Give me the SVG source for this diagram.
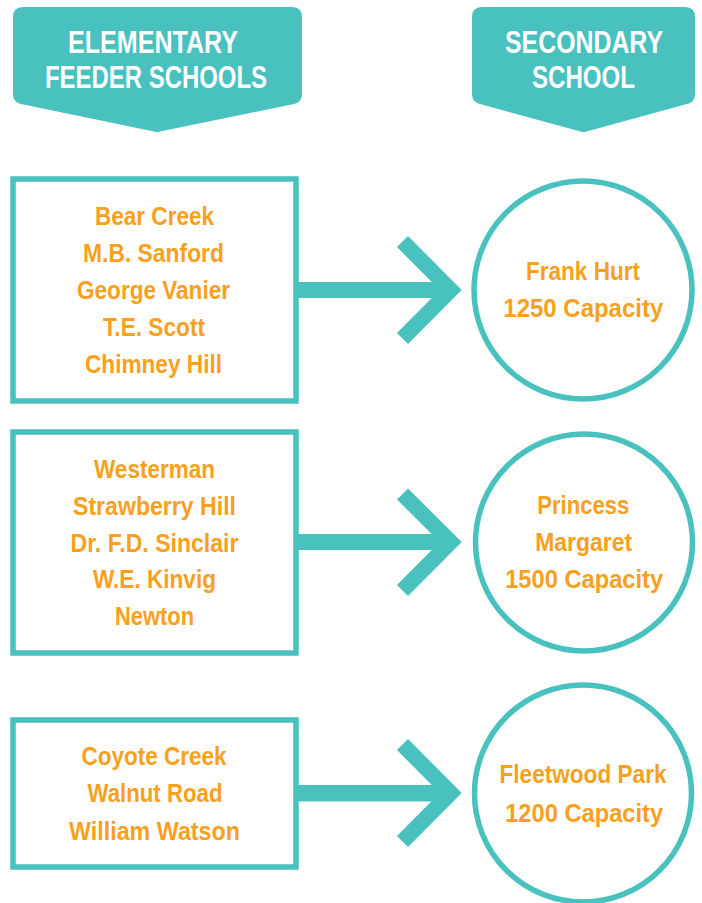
<svg xmlns="http://www.w3.org/2000/svg" width="702" height="903" viewBox="0 0 702 903">
<style>
.hdr{fill:#48C1BF}
.htx{fill:#FFFFFF;font-family:"Liberation Sans",Arial,sans-serif;font-weight:bold;font-size:31.5px;text-anchor:middle}
.box{fill:#FFFFFF;stroke:#48C1BF;stroke-width:5.5}
.circ{fill:#FFFFFF;stroke:#48C1BF;stroke-width:5.5}
.tx{fill:#F9A01E;font-family:"Liberation Sans",Arial,sans-serif;font-weight:bold;font-size:26px;text-anchor:middle}
.bar{fill:#48C1BF}
.chev{fill:none;stroke:#48C1BF;stroke-width:15.6;stroke-linejoin:miter;stroke-miterlimit:4}
</style>
<rect width="702" height="903" fill="#FFFFFF"/>
<g id="header-elementary">
<path class="hdr" d="M23,7 H292 Q302,7 302,17 V94 Q302,102 294,104 L160,131.5 Q157,132.5 154,131.5 L21,104 Q13,102 13,94 V17 Q13,7 23,7 Z"/>
<text class="htx" x="153" y="53" textLength="170" lengthAdjust="spacingAndGlyphs">ELEMENTARY</text>
<text class="htx" x="156" y="88" textLength="222" lengthAdjust="spacingAndGlyphs">FEEDER SCHOOLS</text>
</g>
<g id="header-secondary">
<path class="hdr" d="M482,7 H685 Q695,7 695,17 V94 Q695,102 687,104 L586.5,131.5 Q583.5,132.5 580.5,131.5 L480,104 Q472,102 472,94 V17 Q472,7 482,7 Z"/>
<text class="htx" x="584" y="53" textLength="158" lengthAdjust="spacingAndGlyphs">SECONDARY</text>
<text class="htx" x="583.5" y="88" textLength="103" lengthAdjust="spacingAndGlyphs">SCHOOL</text>
</g>
<g id="connectors">
<rect class="bar" x="296" y="282" width="158" height="16"/>
<polyline class="chev" points="402.5,241.5 450.7,290 402.5,338.5"/>
<rect class="bar" x="296" y="534" width="158" height="16"/>
<polyline class="chev" points="402.5,494 450.7,542 402.5,590.5"/>
<rect class="bar" x="296" y="785" width="158" height="16.5"/>
<polyline class="chev" points="402.5,744.5 450.7,793 402.5,841.5"/>
</g>
<g id="feeder-group-1">
<rect class="box" x="13" y="179" width="283" height="222"/>
<text class="tx" x="154.5" y="225" textLength="119" lengthAdjust="spacingAndGlyphs">Bear Creek</text>
<text class="tx" x="153.5" y="261.7" textLength="141" lengthAdjust="spacingAndGlyphs">M.B. Sanford</text>
<text class="tx" x="153.5" y="298.5" textLength="153" lengthAdjust="spacingAndGlyphs">George Vanier</text>
<text class="tx" x="154" y="335.7" textLength="102" lengthAdjust="spacingAndGlyphs">T.E. Scott</text>
<text class="tx" x="153.5" y="373" textLength="137" lengthAdjust="spacingAndGlyphs">Chimney Hill</text>
</g>
<g id="feeder-group-2">
<rect class="box" x="13" y="432" width="283" height="221"/>
<text class="tx" x="154.5" y="478.3" textLength="121" lengthAdjust="spacingAndGlyphs">Westerman</text>
<text class="tx" x="154.5" y="515" textLength="163" lengthAdjust="spacingAndGlyphs">Strawberry Hill</text>
<text class="tx" x="154.5" y="551.7" textLength="168" lengthAdjust="spacingAndGlyphs">Dr. F.D. Sinclair</text>
<text class="tx" x="154.5" y="588.3" textLength="123" lengthAdjust="spacingAndGlyphs">W.E. Kinvig</text>
<text class="tx" x="154.5" y="625" textLength="79" lengthAdjust="spacingAndGlyphs">Newton</text>
</g>
<g id="feeder-group-3">
<rect class="box" x="13" y="720" width="283" height="147"/>
<text class="tx" x="154" y="765" textLength="145" lengthAdjust="spacingAndGlyphs">Coyote Creek</text>
<text class="tx" x="155" y="801.7" textLength="135" lengthAdjust="spacingAndGlyphs">Walnut Road</text>
<text class="tx" x="154.5" y="840" textLength="171" lengthAdjust="spacingAndGlyphs">William Watson</text>
</g>
<g id="secondary-frank-hurt">
<circle class="circ" cx="583" cy="290" r="109"/>
<text class="tx" x="583" y="280" textLength="114" lengthAdjust="spacingAndGlyphs">Frank Hurt</text>
<text class="tx" x="583.3" y="317.3" textLength="160" lengthAdjust="spacingAndGlyphs">1250 Capacity</text>
</g>
<g id="secondary-princess-margaret">
<circle class="circ" cx="584" cy="542.5" r="108.5"/>
<text class="tx" x="583.3" y="514" textLength="92" lengthAdjust="spacingAndGlyphs">Princess</text>
<text class="tx" x="583.7" y="551" textLength="97" lengthAdjust="spacingAndGlyphs">Margaret</text>
<text class="tx" x="584.2" y="588.3" textLength="158" lengthAdjust="spacingAndGlyphs">1500 Capacity</text>
</g>
<g id="secondary-fleetwood-park">
<circle class="circ" cx="583" cy="793.5" r="108.5"/>
<text class="tx" x="583" y="783.3" textLength="167" lengthAdjust="spacingAndGlyphs">Fleetwood Park</text>
<text class="tx" x="584.2" y="821.7" textLength="158" lengthAdjust="spacingAndGlyphs">1200 Capacity</text>
</g>
</svg>
